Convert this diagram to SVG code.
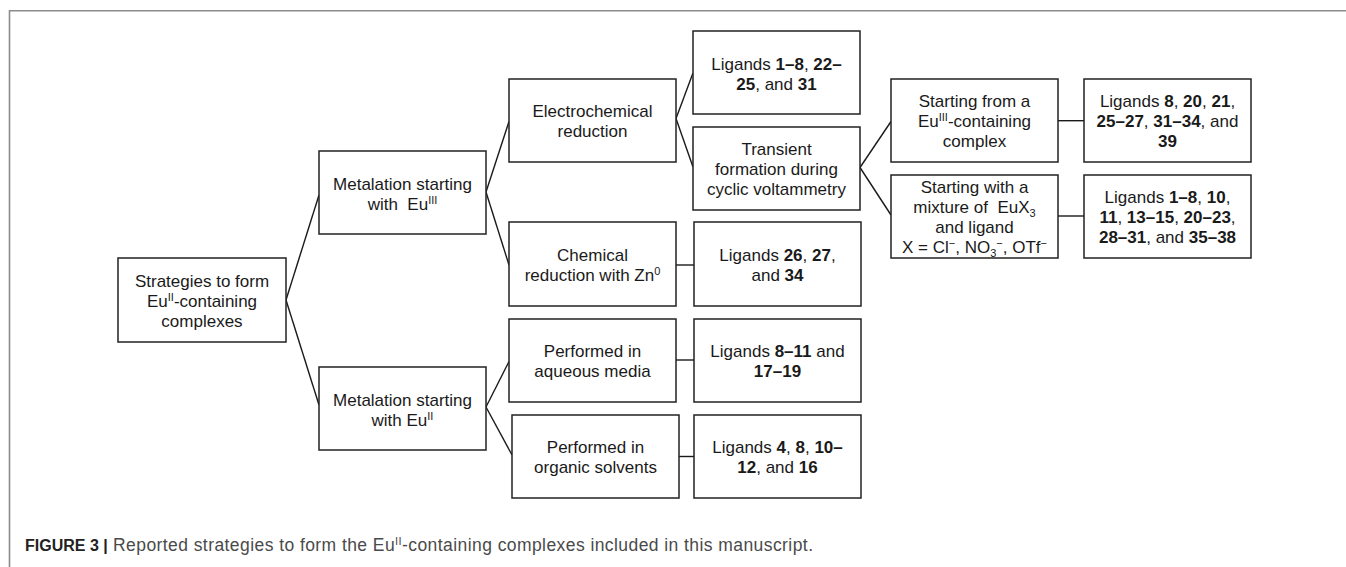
<svg xmlns="http://www.w3.org/2000/svg" width="1346" height="567" viewBox="0 0 1346 567">
<style>
.box{fill:#fff;stroke:#222;stroke-width:1.5}
.t{font-family:"Liberation Sans",Arial,sans-serif;font-size:17px;fill:#1a1a1a;text-anchor:middle}
.b{font-weight:bold}
.s{font-size:11px}
.conn line{stroke:#1a1a1a;stroke-width:1.4;fill:none}
.frame{fill:none;stroke:#8c8c8c;stroke-width:1.6}
.cap{font-family:"Liberation Sans",Arial,sans-serif;font-size:17.5px;fill:#4a4a4a}
.capb{font-family:"Liberation Sans",Arial,sans-serif;font-size:16px;font-weight:bold;fill:#222}
</style>
<rect width="1346" height="567" fill="#fff"/>
<path class="frame" d="M9.5 567 V10.8 H1346"/>

<g id="connectors" class="conn">
<line x1="286" y1="300" x2="319" y2="195"/>
<line x1="286" y1="300" x2="319" y2="405"/>
<line x1="486" y1="192" x2="509" y2="121.5"/>
<line x1="486" y1="192" x2="509" y2="265"/>
<line x1="676" y1="118.5" x2="693" y2="73"/>
<line x1="676" y1="118.5" x2="693" y2="167"/>
<line x1="860" y1="167.5" x2="891" y2="121.5"/>
<line x1="860" y1="167.5" x2="891" y2="215"/>
<line x1="676" y1="265" x2="694" y2="265"/>
<line x1="1058" y1="120.7" x2="1084" y2="120.7"/>
<line x1="1058" y1="216" x2="1084" y2="216"/>
<line x1="486" y1="407" x2="509" y2="361.5"/>
<line x1="486" y1="407" x2="512" y2="455"/>
<line x1="676" y1="360" x2="694" y2="360"/>
<line x1="679" y1="456.5" x2="694" y2="456.5"/>
</g>

<g id="n-root"><rect class="box" x="118" y="258" width="168" height="84"/>
<text class="t"><tspan x="202" y="286.5">Strategies to form</tspan><tspan x="202" y="306.5">Eu<tspan class="s" dy="-6">II</tspan><tspan dy="6">-containing</tspan></tspan><tspan x="202" y="326.5">complexes</tspan></text></g>

<g id="n-eu3"><rect class="box" x="319" y="151" width="167" height="83"/>
<text class="t" xml:space="preserve"><tspan x="402.5" y="190">Metalation starting</tspan><tspan x="402.5" y="210">with  Eu<tspan class="s" dy="-6">III</tspan></tspan></text></g>

<g id="n-eu2"><rect class="box" x="319" y="367" width="167" height="83"/>
<text class="t"><tspan x="402.5" y="406">Metalation starting</tspan><tspan x="402.5" y="426">with Eu<tspan class="s" dy="-6">II</tspan></tspan></text></g>

<g id="n-electro"><rect class="box" x="509" y="79" width="167" height="83"/>
<text class="t"><tspan x="592.5" y="117">Electrochemical</tspan><tspan x="592.5" y="137">reduction</tspan></text></g>

<g id="n-lig1"><rect class="box" x="693" y="31" width="167" height="83"/>
<text class="t"><tspan x="776.5" y="69.5">Ligands <tspan class="b">1–8</tspan>, <tspan class="b">22–</tspan></tspan><tspan x="776.5" y="89.5"><tspan class="b">25</tspan>, and <tspan class="b">31</tspan></tspan></text></g>

<g id="n-transient"><rect class="box" x="693" y="127" width="167" height="83"/>
<text class="t"><tspan x="776.5" y="155">Transient</tspan><tspan x="776.5" y="175">formation during</tspan><tspan x="776.5" y="195">cyclic voltammetry</tspan></text></g>

<g id="n-chem"><rect class="box" x="509" y="222" width="167" height="84"/>
<text class="t"><tspan x="592.5" y="260.5">Chemical</tspan><tspan x="592.5" y="280.5">reduction with Zn<tspan class="s" dy="-6">0</tspan></tspan></text></g>

<g id="n-lig26"><rect class="box" x="694" y="222" width="167" height="84"/>
<text class="t"><tspan x="777.5" y="260.5">Ligands <tspan class="b">26</tspan>, <tspan class="b">27</tspan>,</tspan><tspan x="777.5" y="280.5">and <tspan class="b">34</tspan></tspan></text></g>

<g id="n-aq"><rect class="box" x="509" y="319" width="167" height="83"/>
<text class="t"><tspan x="592.5" y="357">Performed in</tspan><tspan x="592.5" y="377">aqueous media</tspan></text></g>

<g id="n-lig8"><rect class="box" x="694" y="319" width="167" height="83"/>
<text class="t"><tspan x="777.5" y="357">Ligands <tspan class="b">8–11</tspan> and</tspan><tspan x="777.5" y="377" class="b">17–19</tspan></text></g>

<g id="n-org"><rect class="box" x="512" y="415" width="167" height="83"/>
<text class="t"><tspan x="595.5" y="453">Performed in</tspan><tspan x="595.5" y="473">organic solvents</tspan></text></g>

<g id="n-lig4"><rect class="box" x="694" y="415" width="167" height="83"/>
<text class="t"><tspan x="777.5" y="453">Ligands <tspan class="b">4</tspan>, <tspan class="b">8</tspan>, <tspan class="b">10–</tspan></tspan><tspan x="777.5" y="473"><tspan class="b">12</tspan>, and <tspan class="b">16</tspan></tspan></text></g>

<g id="n-start"><rect class="box" x="891" y="79" width="167" height="83"/>
<text class="t"><tspan x="974.5" y="107">Starting from a</tspan><tspan x="974.5" y="127">Eu<tspan class="s" dy="-6">III</tspan><tspan dy="6">-containing</tspan></tspan><tspan x="974.5" y="147">complex</tspan></text></g>

<g id="n-lig39"><rect class="box" x="1084" y="79" width="167" height="83"/>
<text class="t"><tspan x="1167.5" y="107">Ligands <tspan class="b">8</tspan>, <tspan class="b">20</tspan>, <tspan class="b">21</tspan>,</tspan><tspan x="1167.5" y="127"><tspan class="b">25–27</tspan>, <tspan class="b">31–34</tspan>, and</tspan><tspan x="1167.5" y="147" class="b">39</tspan></text></g>

<g id="n-mix"><rect class="box" x="891" y="175" width="167" height="83"/>
<text class="t" xml:space="preserve"><tspan x="974.5" y="193">Starting with a</tspan><tspan x="974.5" y="213">mixture of  EuX<tspan class="s" dy="4">3</tspan></tspan><tspan x="974.5" y="233">and ligand</tspan><tspan x="974.5" y="253">X = Cl<tspan class="s" dy="-6">−</tspan><tspan dy="6">, NO</tspan><tspan class="s" dy="4">3</tspan><tspan class="s" dy="-10">−</tspan><tspan dy="6">, OTf</tspan><tspan class="s" dy="-6">−</tspan></tspan></text></g>

<g id="n-lig35"><rect class="box" x="1084" y="175" width="167" height="83"/>
<text class="t"><tspan x="1167.5" y="203">Ligands <tspan class="b">1–8</tspan>, <tspan class="b">10</tspan>,</tspan><tspan x="1167.5" y="223"><tspan class="b">11</tspan>, <tspan class="b">13–15</tspan>, <tspan class="b">20–23</tspan>,</tspan><tspan x="1167.5" y="243"><tspan class="b">28–31</tspan>, and <tspan class="b">35–38</tspan></tspan></text></g>

<g id="caption">
<text class="capb" x="25" y="551">FIGURE 3 |</text>
<text class="cap" x="113" y="551" textLength="700" lengthAdjust="spacing">Reported strategies to form the Eu<tspan font-size="11" dy="-6">II</tspan><tspan dy="6">-containing complexes included in this manuscript.</tspan></text>
</g>
</svg>
